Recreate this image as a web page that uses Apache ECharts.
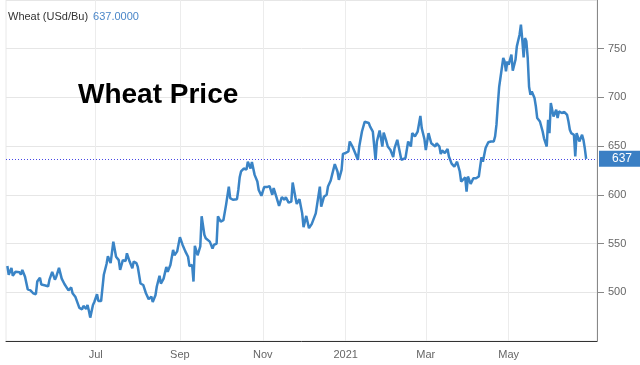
<!DOCTYPE html>
<html>
<head>
<meta charset="utf-8">
<script src="https://cdn.jsdelivr.net/npm/echarts@6/dist/echarts.min.js"></script>
<style>
html,body{margin:0;padding:0;background:#fff;}
#chart{width:640px;height:365px;}
</style>
</head>
<body>
<div id="chart"></div>
<script>
const seriesName = 'Wheat (USd/Bu)';
const chartHeading = 'Wheat Price';
const monthNames = ['Jan','Feb','Mar','Apr','May','Jun','Jul','Aug','Sep','Oct','Nov','Dec'];
const xTickDates = ['2020-07-01','2020-09-01','2020-11-01','2021-01-01','2021-03-01','2021-05-01'];
const dates = [
'2020-04-27','2020-04-28','2020-04-30','2020-05-01','2020-05-03','2020-05-04','2020-05-06','2020-05-07','2020-05-08','2020-05-10',
'2020-05-12','2020-05-14','2020-05-16','2020-05-18','2020-05-19','2020-05-21','2020-05-22','2020-05-25','2020-05-27','2020-05-28',
'2020-05-30','2020-06-01','2020-06-02','2020-06-04','2020-06-06','2020-06-08','2020-06-11','2020-06-13','2020-06-14','2020-06-16',
'2020-06-19','2020-06-21','2020-06-22','2020-06-24','2020-06-25','2020-06-26','2020-06-27','2020-06-29','2020-06-30','2020-07-02',
'2020-07-03','2020-07-05','2020-07-07','2020-07-09','2020-07-10','2020-07-12','2020-07-13','2020-07-14','2020-07-16','2020-07-18',
'2020-07-19','2020-07-21','2020-07-23','2020-07-24','2020-07-26','2020-07-28','2020-07-29','2020-07-31','2020-08-01','2020-08-03',
'2020-08-05','2020-08-07','2020-08-09','2020-08-11','2020-08-12','2020-08-14','2020-08-15','2020-08-17','2020-08-18','2020-08-20',
'2020-08-22','2020-08-23','2020-08-25','2020-08-27','2020-08-28','2020-08-30','2020-09-01','2020-09-03','2020-09-05','2020-09-07',
'2020-09-08','2020-09-10','2020-09-11','2020-09-12','2020-09-14','2020-09-16','2020-09-17','2020-09-19','2020-09-20','2020-09-21',
'2020-09-23','2020-09-25','2020-09-26','2020-09-28','2020-09-29','2020-10-01','2020-10-03','2020-10-05','2020-10-07','2020-10-08',
'2020-10-10','2020-10-13','2020-10-14','2020-10-15','2020-10-16','2020-10-18','2020-10-20','2020-10-21','2020-10-23','2020-10-24',
'2020-10-26','2020-10-28','2020-10-29','2020-10-31','2020-11-02','2020-11-04','2020-11-06','2020-11-08','2020-11-09','2020-11-11',
'2020-11-13','2020-11-15','2020-11-17','2020-11-18','2020-11-20','2020-11-22','2020-11-23','2020-11-25','2020-11-26','2020-11-28',
'2020-11-30','2020-12-01','2020-12-03','2020-12-05','2020-12-07','2020-12-08','2020-12-10','2020-12-13','2020-12-14','2020-12-16',
'2020-12-18','2020-12-19','2020-12-21','2020-12-22','2020-12-24','2020-12-26','2020-12-27','2020-12-29','2020-12-30','2021-01-01',
'2021-01-03','2021-01-04','2021-01-06','2021-01-08','2021-01-10','2021-01-11','2021-01-13','2021-01-15','2021-01-16','2021-01-18',
'2021-01-19','2021-01-21','2021-01-23','2021-01-24','2021-01-26','2021-01-27','2021-01-28','2021-01-29','2021-01-31','2021-02-01',
'2021-02-03','2021-02-05','2021-02-06','2021-02-08','2021-02-09','2021-02-11','2021-02-12','2021-02-14','2021-02-16','2021-02-18',
'2021-02-19','2021-02-21','2021-02-23','2021-02-25','2021-02-26','2021-02-28','2021-03-01','2021-03-03','2021-03-05','2021-03-06',
'2021-03-08','2021-03-09','2021-03-11','2021-03-12','2021-03-13','2021-03-15','2021-03-17','2021-03-18','2021-03-20','2021-03-22',
'2021-03-23','2021-03-24','2021-03-26','2021-03-27','2021-03-28','2021-03-30','2021-03-31','2021-04-01','2021-04-03','2021-04-04',
'2021-04-05','2021-04-07','2021-04-09','2021-04-10','2021-04-11','2021-04-12','2021-04-14','2021-04-16','2021-04-18','2021-04-20',
'2021-04-21','2021-04-22','2021-04-23','2021-04-24','2021-04-25','2021-04-27','2021-04-28','2021-04-29','2021-04-30','2021-05-01',
'2021-05-03','2021-05-04','2021-05-06','2021-05-07','2021-05-09','2021-05-10','2021-05-11','2021-05-12','2021-05-13','2021-05-14',
'2021-05-15','2021-05-16','2021-05-17','2021-05-18','2021-05-20','2021-05-21','2021-05-22','2021-05-24','2021-05-25','2021-05-26',
'2021-05-27','2021-05-29','2021-05-30','2021-05-31','2021-06-01','2021-06-02','2021-06-03','2021-06-05','2021-06-06','2021-06-07',
'2021-06-09','2021-06-10','2021-06-11','2021-06-13','2021-06-14','2021-06-15','2021-06-16','2021-06-18','2021-06-19','2021-06-20',
'2021-06-21','2021-06-22','2021-06-24','2021-06-25','2021-06-26','2021-06-27'
];
const prices = [
527,518,525,517,521,519,520.5,518,523,516,
503,502,499,498,511,515,508,507,506,513,
521,513,516,525,514,508.5,502,505,499,495.5,
484,482.5,486,483,487,481,474,487,490,498,
491,491,518,529,537,530,541,552,536.5,533,
523,533,532,540,531.5,524.7,531.5,530,526,509,
507.5,499,493,495.5,490,497,506,517,509,514,
526,521,528,543.5,538,542,556.5,548.6,542,536.5,
527,528,511,547.6,538,547,578,559,555.5,557,
552,545,548.6,550,578,572.5,574,590,608.5,596.6,
595,595.6,605,618,624,627,626,634,627,633.6,
620.5,613.7,605,599,608,608,609,600,607,598,
588.7,597.6,595,597.6,592,593,612.6,597.6,590.7,595.6,
581,566.8,578.4,565.8,570,571,581,608.5,588,598,
600,608.5,614.7,620.5,631.5,624,615.4,625.7,642,643,
644.5,654.8,649.6,643,636,649.6,665,675,674,673.7,
670,665,636,654.8,666,658,649.6,664,654.8,649.6,
646,638.7,648,656.5,649.6,636,634,637.7,654.8,649.6,
663.4,660,665,681,668.5,657,646,663.4,653,654.8,
649.6,653,649.6,642,645.5,643,647,639.4,632,629,
628.5,634,624,613.7,615.4,618,603.4,618.8,611.3,612.6,
617,617,618.8,629,638.7,634,648,654,654.8,654.8,
660,672,692.5,711,711,740.5,737,726.7,737,733.6,
744,727.4,738.6,752.4,764.4,774.7,759.3,741,761,757.6,
740.5,711,702.8,706,699.4,690.7,678.8,675.3,673.7,665,
658,649.6,677,663.4,694.2,692.5,680.5,687.4,678.8,685.6,
684,685.6,685,682,675.3,666.8,663.4,661.7,639.4,663.4,
663.4,654.8,661.7,656.5,648,637
];
const lastPrice = prices[prices.length - 1];
const xMin = '2020-04-26';
const xMax = '2021-07-05';
const yMin = 450, yMax = 800, yStep = 50;

function toTime(s) {
  const p = s.split('-').map(Number);
  return new Date(p[0], p[1] - 1, p[2]).getTime();
}
const xTickValues = xTickDates.map(toTime);

const chart = echarts.init(document.getElementById('chart'), null, {renderer: 'canvas'});
const lineColor = '#3a84c6';
const fontFam = 'Liberation Sans, Arial, sans-serif';
chart.setOption({
  animation: false,
  backgroundColor: '#ffffff',
  textStyle: {fontFamily: fontFam},
  title: [
    {
      left: 3, top: 3,
      text: '{a|' + seriesName + '} {b|' + lastPrice.toFixed(4) + '}',
      textStyle: {
        fontWeight: 'normal',
        rich: {
          a: {fontSize: 11, color: '#333', fontWeight: 'normal', fontFamily: fontFam},
          b: {fontSize: 11, color: '#4a86c8', fontWeight: 'normal', fontFamily: fontFam}
        }
      }
    },
    {
      left: 73, top: 76,
      text: chartHeading,
      textStyle: {fontSize: 28, fontWeight: 'bold', color: '#000', fontFamily: fontFam}
    }
  ],
  grid: {left: 6, right: 43, top: 0, bottom: 24, show: true, borderColor: '#e8e8e8', borderWidth: 1},
  xAxis: {
    type: 'value',
    min: toTime(xMin), max: toTime(xMax),
    axisLine: {show: true, onZero: false, lineStyle: {color: '#333', width: 1}},
    axisTick: {show: false, customValues: xTickValues},
    axisLabel: {
      color: '#666', fontSize: 11, margin: 8,
      customValues: xTickValues,
      formatter: function (v) {
        const d = new Date(v);
        return d.getMonth() === 0 ? String(d.getFullYear()) : monthNames[d.getMonth()];
      }
    },
    splitLine: {show: true, lineStyle: {color: '#ececec', width: 1}}
  },
  yAxis: {
    type: 'value',
    position: 'right',
    min: yMin, max: yMax, interval: yStep,
    axisLine: {show: true, lineStyle: {color: '#888', width: 1}},
    axisTick: {show: true, length: 7, lineStyle: {color: '#888'}},
    axisLabel: {color: '#666', fontSize: 11, margin: 11, showMinLabel: false, showMaxLabel: false},
    splitLine: {show: true, lineStyle: {color: '#e6e6e6', width: 1}}
  },
  series: [{
    type: 'line',
    name: seriesName,
    data: dates.map((d, i) => [toTime(d), prices[i]]),
    showSymbol: false,
    symbol: 'none',
    lineStyle: {color: lineColor, width: 2.5},
    itemStyle: {color: lineColor},
    markLine: {
      silent: true,
      symbol: 'none',
      lineStyle: {color: '#4646e6', type: [1, 2], width: 1},
      label: {
        show: true, position: 'end', distance: 2,
        formatter: String(lastPrice),
        backgroundColor: '#3a7fc4', color: '#fff', fontSize: 12,
        padding: [2, 11, 2, 13]
      },
      data: [{yAxis: lastPrice}]
    }
  }]
});
</script>
</body>
</html>
